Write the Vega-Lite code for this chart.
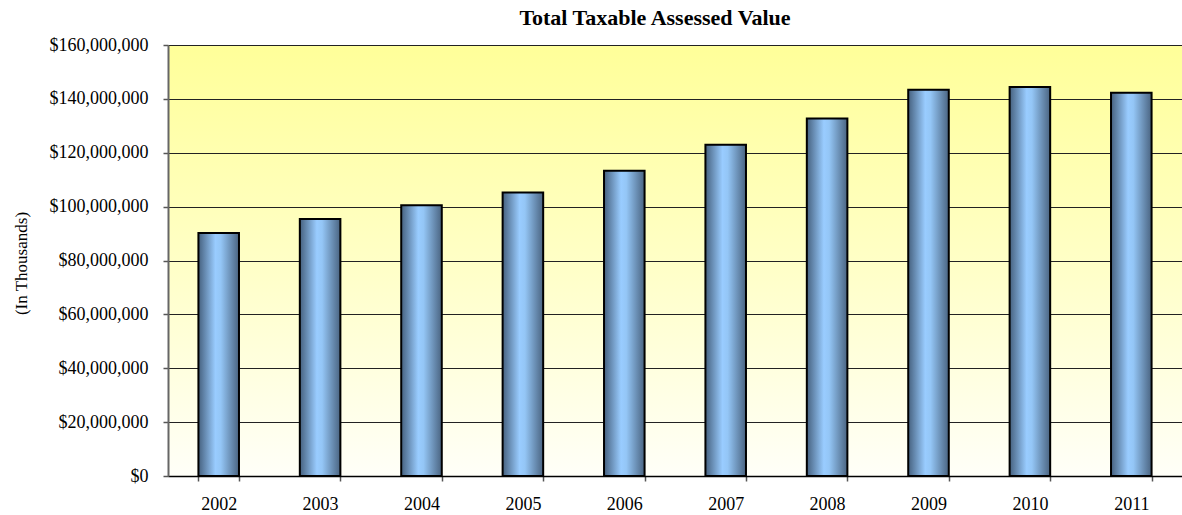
{
  "$schema": "https://vega.github.io/schema/vega-lite/v6.json",
  "width": 1014,
  "height": 431,
  "autosize": {"type": "none"},
  "padding": {"left": 168, "top": 45, "right": 0, "bottom": 39},
  "background": "white",
  "title": {
    "text": "Total Taxable Assessed Value",
    "font": "Liberation Serif",
    "fontSize": 22,
    "fontWeight": "bold",
    "color": "#000000",
    "anchor": "middle",
    "dx": -20,
    "offset": 6
  },
  "data": {
    "values": [
      {"year": "2002", "value": 90200000},
      {"year": "2003", "value": 95400000},
      {"year": "2004", "value": 100500000},
      {"year": "2005", "value": 105200000},
      {"year": "2006", "value": 113300000},
      {"year": "2007", "value": 123000000},
      {"year": "2008", "value": 132700000},
      {"year": "2009", "value": 143400000},
      {"year": "2010", "value": 144400000},
      {"year": "2011", "value": 142300000}
    ]
  },
  "mark": {
    "type": "bar",
    "stroke": "#000000",
    "strokeWidth": 2,
    "fill": {
      "gradient": "linear",
      "x1": 0, "y1": 0, "x2": 1, "y2": 0,
      "stops": [
        {"offset": 0, "color": "#46617f"},
        {"offset": 0.42, "color": "#99ccff"},
        {"offset": 0.55, "color": "#94c6f6"},
        {"offset": 1, "color": "#4a6481"}
      ]
    }
  },
  "encoding": {
    "x": {
      "field": "year",
      "type": "ordinal",
      "scale": {"paddingInner": 0.6, "paddingOuter": 0.3},
      "axis": {
        "title": null,
        "labelAngle": 0,
        "labelFont": "Liberation Serif",
        "labelFontSize": 18,
        "labelColor": "#000000",
        "labelPadding": 14,
        "domainColor": "#000000",
        "domainWidth": 1.5,
        "tickColor": "#555555",
        "tickSize": 5,
        "tickWidth": 1.5,
        "tickBand": "extent",
        "grid": false
      }
    },
    "y": {
      "field": "value",
      "type": "quantitative",
      "scale": {"domain": [0, 160000000], "nice": false},
      "axis": {
        "title": "(In Thousands)",
        "titleFont": "Liberation Serif",
        "titleFontSize": 17,
        "titleFontWeight": "normal",
        "titleColor": "#000000",
        "titleX": -147,
        "titleY": 218,
        "titleAngle": -90,
        "titleAlign": "center",
        "titleBaseline": "middle",
        "values": [0, 20000000, 40000000, 60000000, 80000000, 100000000, 120000000, 140000000, 160000000],
        "format": "$,.0f",
        "labelFont": "Liberation Serif",
        "labelFontSize": 18,
        "labelColor": "#000000",
        "labelPadding": 15,
        "tickSize": 5,
        "tickColor": "#555555",
        "tickWidth": 1.5,
        "domainColor": "#666666",
        "domainWidth": 2,
        "grid": true,
        "gridColor": "#222222",
        "gridWidth": 1.2
      }
    }
  },
  "config": {
    "view": {
      "stroke": null,
      "fill": {
        "gradient": "linear",
        "x1": 0, "y1": 0, "x2": 0, "y2": 1,
        "stops": [
          {"offset": 0, "color": "#ffff99"},
          {"offset": 0.5, "color": "#ffffc6"},
          {"offset": 1, "color": "#fffff8"}
        ]
      }
    }
  }
}
